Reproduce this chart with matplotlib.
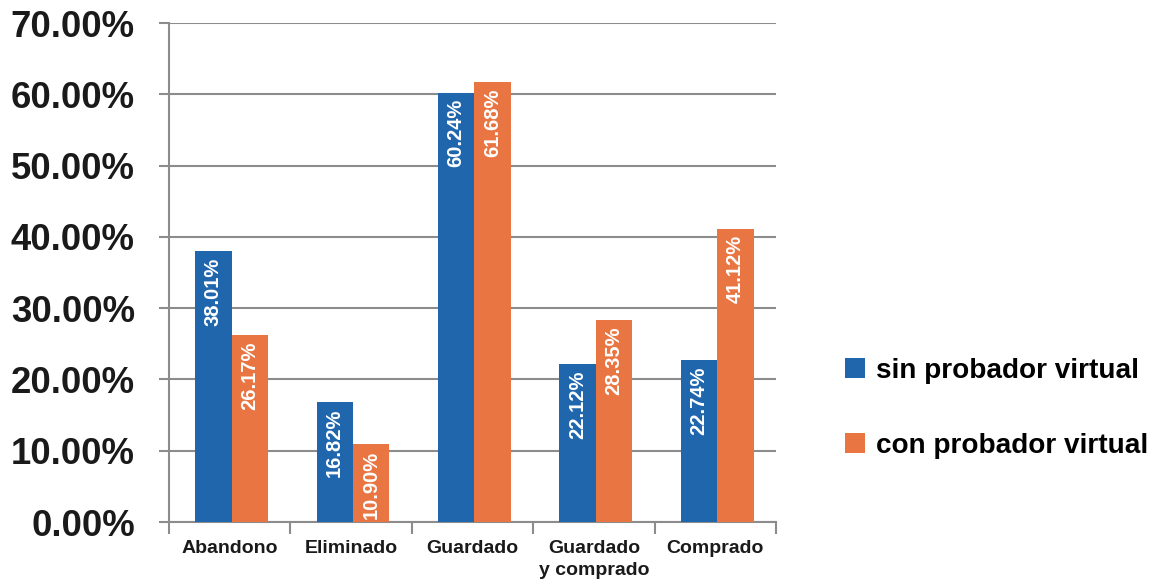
import matplotlib
matplotlib.use("Agg")
import matplotlib.pyplot as plt
from matplotlib.patches import Patch
import numpy as np

categories = ["Abandono", "Eliminado", "Guardado", "Guardado\ny comprado", "Comprado"]
sin_probador = [38.01, 16.82, 60.24, 22.12, 22.74]
con_probador = [26.17, 10.90, 61.68, 28.35, 41.12]
series_names = ["sin probador virtual", "con probador virtual"]
y_ticks = [0, 10, 20, 30, 40, 50, 60, 70]

BLUE = "#1F66AD"
ORANGE = "#E97642"
GRID = "#8C8C8C"

plt.rcParams["font.family"] = ["Liberation Sans", "DejaVu Sans"]

fig = plt.figure(figsize=(11.53, 5.84), dpi=100)
ax = fig.add_axes([169 / 1153, 1 - 522 / 584, (776 - 169) / 1153, (522 - 23) / 584])

x = np.arange(len(categories))
w = 0.30
off = 0.015
bars1 = ax.bar(x - w / 2 + off, sin_probador, w, color=BLUE, label=series_names[0], zorder=3)
bars2 = ax.bar(x + w / 2 + off, con_probador, w, color=ORANGE, label=series_names[1], zorder=3)

for bars, vals in ((bars1, sin_probador), (bars2, con_probador)):
    for b, v in zip(bars, vals):
        ax.annotate(f"{v:.2f}%", xy=(b.get_x() + b.get_width() / 2, v),
                    xytext=(0, -4.5), textcoords="offset points",
                    rotation=90, ha="center", va="top", color="white",
                    fontsize=14.5, fontweight="bold", zorder=4)

ax.set_xlim(-0.5, len(categories) - 0.5)
ax.set_ylim(0, 70)
ax.set_yticks(y_ticks)
ax.set_yticklabels([f"{t:.2f}%" for t in y_ticks], fontsize=26.3, fontweight="bold", color="#1a1a1a")
ax.yaxis.grid(True, color=GRID, linewidth=1.5, zorder=0)
ax.tick_params(axis="y", length=7.5, width=1.5, color=GRID, pad=17)

ax.set_xticks(x)
ax.set_xticklabels(categories, fontsize=14, fontweight="bold", color="#1a1a1a", linespacing=1.4)
ax.tick_params(axis="x", which="major", length=0, pad=13)
ax.set_xticks(np.arange(-0.5, len(categories)), minor=True)
ax.tick_params(axis="x", which="minor", length=8.5, width=1.5, color=GRID, direction="out")

for side in ("top", "right"):
    ax.spines[side].set_visible(False)
for side in ("left", "bottom"):
    ax.spines[side].set_color(GRID)
    ax.spines[side].set_linewidth(1.5)

handles = [Patch(facecolor=BLUE), Patch(facecolor=ORANGE)]
fig.legend(handles, series_names, loc="upper left",
           bbox_to_anchor=(845 / 1153, 1 - 358 / 584), frameon=False,
           prop={"size": 20.1, "weight": "bold"}, handlelength=0.7, handleheight=0.7,
           handletextpad=0.42, labelspacing=1.75, borderpad=0, borderaxespad=0)

fig.savefig("out.png", dpi=100, facecolor="white")
